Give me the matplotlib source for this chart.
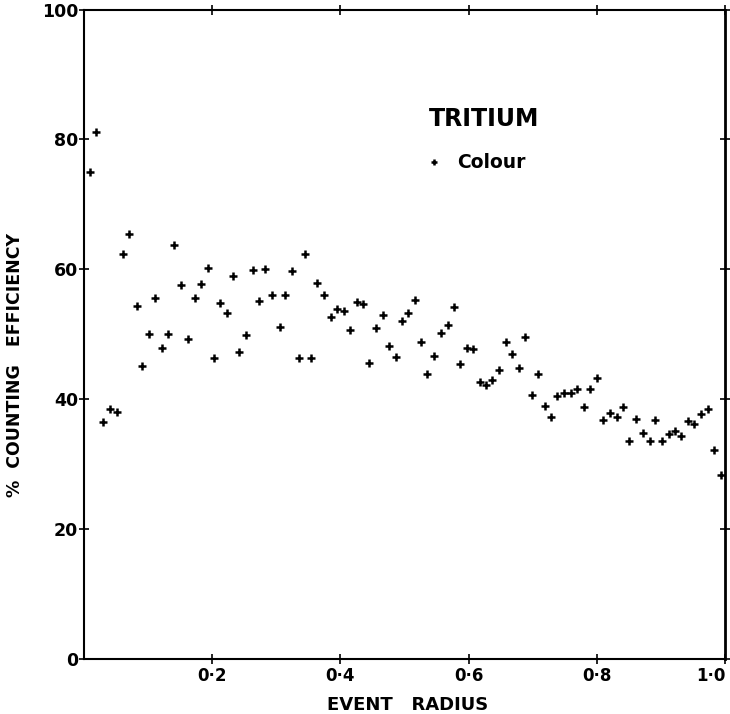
import numpy as np
import matplotlib
matplotlib.use('agg')
import matplotlib.pyplot as plt

# event radius
radius = [0.009, 0.019, 0.030, 0.041, 0.051, 0.061, 0.071, 0.082, 0.091, 0.102,
          0.111, 0.121, 0.131, 0.141, 0.152, 0.162, 0.173, 0.182, 0.193, 0.203,
          0.212, 0.223, 0.233, 0.242, 0.253, 0.264, 0.273, 0.283, 0.294, 0.305,
          0.314, 0.324, 0.335, 0.344, 0.354, 0.364, 0.375, 0.385, 0.395, 0.405,
          0.415, 0.425, 0.435, 0.445, 0.455, 0.466, 0.476, 0.487, 0.496, 0.506,
          0.516, 0.526, 0.535, 0.546, 0.557, 0.567, 0.577, 0.587, 0.597, 0.607,
          0.617, 0.627, 0.637, 0.647, 0.658, 0.668, 0.678, 0.688, 0.699, 0.708,
          0.719, 0.728, 0.738, 0.749, 0.759, 0.769, 0.780, 0.789, 0.800, 0.810,
          0.821, 0.831, 0.840, 0.850, 0.861, 0.871, 0.882, 0.891, 0.901, 0.912,
          0.922, 0.931, 0.942, 0.952, 0.962, 0.973, 0.982, 0.993]

# % counting efficiency
efficiency = [75.0, 81.2, 36.4, 38.4, 38.0, 62.4, 65.5, 54.3, 45.1, 50.0,
              55.5, 47.8, 50.0, 63.8, 57.5, 49.3, 55.6, 57.7, 60.2, 46.4,
              54.8, 53.2, 59.0, 47.2, 49.9, 59.9, 55.1, 60.0, 56.0, 51.1,
              56.1, 59.7, 46.3, 62.4, 46.3, 57.9, 56.1, 52.6, 53.8, 53.6,
              50.7, 55.0, 54.7, 45.5, 51.0, 52.9, 48.1, 46.5, 52.1, 53.3,
              55.3, 48.8, 43.8, 46.6, 50.2, 51.4, 54.2, 45.4, 47.9, 47.7,
              42.6, 42.2, 42.9, 44.5, 48.8, 46.9, 44.8, 49.6, 40.6, 43.8,
              39.0, 37.3, 40.4, 41.0, 41.0, 41.6, 38.8, 41.5, 43.2, 36.7,
              37.8, 37.3, 38.8, 33.6, 36.9, 34.8, 33.6, 36.7, 33.6, 34.6,
              35.1, 34.3, 36.6, 36.1, 37.7, 38.4, 32.2, 28.3]

xticks = [0.2, 0.4, 0.6, 0.8, 1.0]
xticklabels = ['0·2', '0·4', '0·6', '0·8', '1·0']
yticks = [0, 20, 40, 60, 80, 100]
yticklabels = ['0', '20', '40', '60', '80', '100']

fig = plt.figure(figsize=(7.30, 7.14), dpi=100)
ax = fig.add_axes([0.115, 0.0775, 0.8785, 0.909])

ax.plot(radius, efficiency, linestyle='none', marker='+', color='k',
        markersize=5.2, markeredgewidth=1.8, label='Colour')

ax.set_xlim(0, 1.0)
ax.set_ylim(0, 100)

ax.set_xticks(xticks)
ax.set_xticklabels(xticklabels, fontsize=12, fontweight='bold')
ax.set_yticks(yticks)
ax.set_yticklabels(yticklabels, fontsize=12.5, fontweight='bold')
ax.get_xticklabels()[-1].set_horizontalalignment('right')

ax.tick_params(axis='both', direction='inout', length=6.5, width=1.2, pad=1)
ax.tick_params(axis='x', pad=3)
ax.tick_params(top=True, right=True)

for s in ax.spines.values():
    s.set_linewidth(1.5)
ax.spines['right'].set_linewidth(2.0)

ax.set_xlabel('EVENT   RADIUS', fontsize=13, fontweight='bold')
ax.xaxis.set_label_coords(0.504, -0.058)
ax.set_ylabel('%  COUNTING   EFFICIENCY', fontsize=12.5, fontweight='bold')
ax.yaxis.set_label_coords(-0.094, 0.452)

leg = ax.legend(title='TRITIUM', loc='upper left', bbox_to_anchor=(0.523, 0.865),
                frameon=False, borderpad=0, alignment='left',
                title_fontproperties={'weight': 'bold', 'size': 17},
                prop={'weight': 'bold', 'size': 13.5},
                handlelength=0.6, handletextpad=0.9, labelspacing=1.2,
                markerscale=0.7, numpoints=1)

plt.savefig('out.png', dpi=100)
plt.close()
